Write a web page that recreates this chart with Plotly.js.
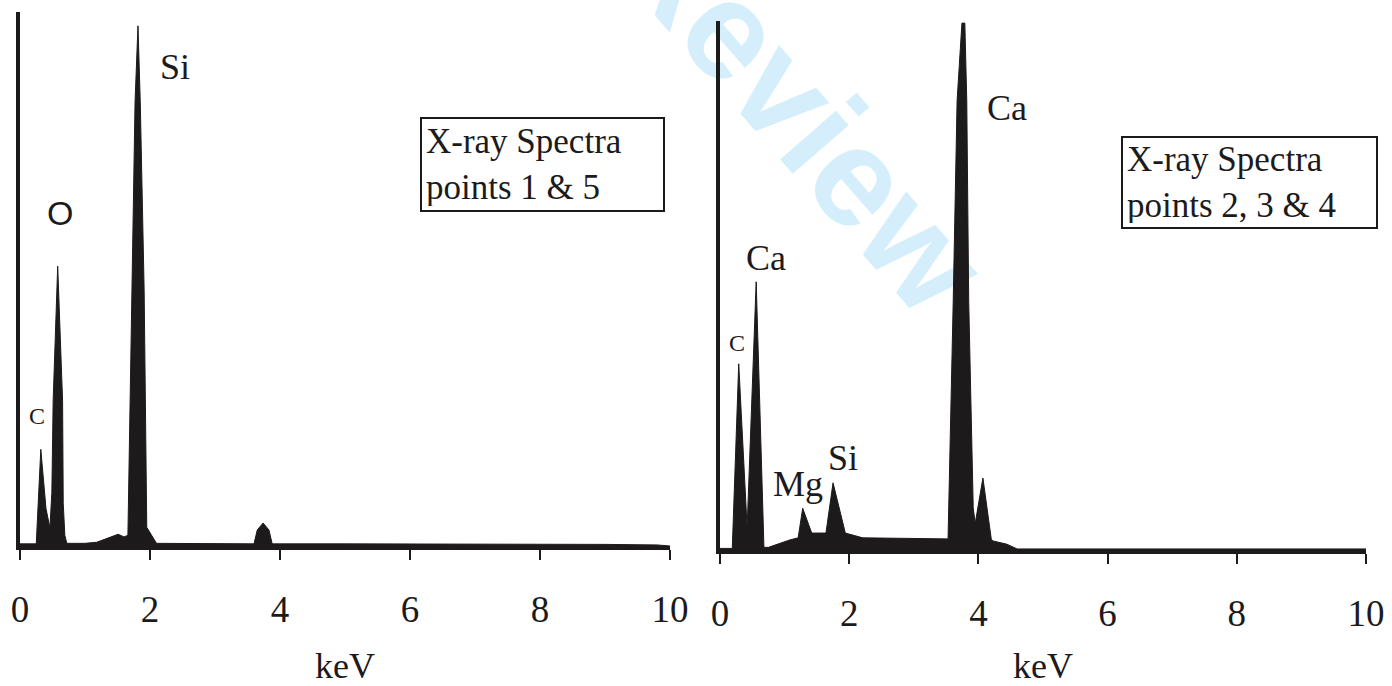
<!DOCTYPE html>
<html>
<head>
<meta charset="utf-8">
<script src="https://cdn.plot.ly/plotly-3.0.1.min.js"></script>
<style>html,body{margin:0;padding:0;background:#fff;}#chart{width:1392px;height:686px;}</style>
</head>
<body>
<div id="chart"></div>
<script>
// Spectrum for points 1 & 5 (keV, relative counts)
const energyA = [0, 0.25, 0.32, 0.40, 0.46, 0.49, 0.51, 0.58, 0.655, 0.665, 0.69, 0.72, 1.0, 1.18, 1.51, 1.60, 1.66, 1.72, 1.77, 1.815, 1.85, 1.91, 1.95, 2.1, 3.0, 3.60, 3.65, 3.74, 3.83, 3.88, 5, 7, 9, 9.8, 10];
const countsA = [0.4, 0.4, 18.1, 7.0, 3.4, 10, 27.2, 52.4, 27.2, 8, 2, 0.5, 0.5, 0.7, 2.2, 1.7, 2.0, 47.8, 83.2, 97.4, 83.2, 47.8, 3.5, 0.5, 0.4, 0.4, 3.0, 4.3, 3.0, 0.4, 0.4, 0.4, 0.3, 0.2, 0];

// Spectrum for points 2, 3 & 4
const energyB = [0, 0.19, 0.29, 0.42, 0.56, 0.68, 0.75, 0.9, 1.08, 1.21, 1.28, 1.42, 1.64, 1.75, 1.94, 2.21, 3.0, 3.53, 3.61, 3.67, 3.745, 3.79, 3.82, 3.85, 3.92, 3.95, 4.07, 4.20, 4.23, 4.44, 4.6, 6, 8, 10];
const countsB = [0.3, 0.3, 35.2, 4.2, 50.7, 0.5, 0.5, 1.2, 1.9, 2.3, 7.9, 3.2, 3.2, 12.7, 3.2, 2.3, 2.2, 2.1, 47, 84.9, 99.6, 99.6, 84.9, 47, 8, 5, 13.6, 2.0, 1.7, 1.1, 0.2, 0.2, 0.2, 0.2];

// Axis ticks
const tickValues = [0, 2, 4, 6, 8, 10];
const tickText = ['0', '2', '4', '6', '8', '10'];

// Peak labels
const labelsA = ['Si', 'O', 'C'];
const labelsAx = [2.38, 0.615, 0.26];
const labelsAy = [89.7, 62.3, 24.4];
const labelsB = ['Ca', 'Ca', 'C', 'Mg', 'Si'];
const labelsBx = [4.44, 0.71, 0.26, 1.2, 1.9];
const labelsBy = [83.6, 55.2, 39.1, 12.5, 17.4];

const boxTextA = 'X-ray Spectra<br>points 1 &amp; 5';
const boxTextB = 'X-ray Spectra<br>points 2, 3 &amp; 4';
const axisTitle = 'keV';

const INK = '#1c1a1b';
const SERIF = 'Liberation Serif, Times New Roman, serif';

const traces = [
  {x: energyA, y: countsA, xaxis: 'x', yaxis: 'y', type: 'scatter', mode: 'lines',
   fill: 'tozeroy', fillcolor: INK, line: {color: INK, width: 1}, hoverinfo: 'skip'},
  {x: energyB, y: countsB, xaxis: 'x2', yaxis: 'y2', type: 'scatter', mode: 'lines',
   fill: 'tozeroy', fillcolor: INK, line: {color: INK, width: 1}, hoverinfo: 'skip'}
];

function xax(domain, anchor) {
  return {
    domain: domain, anchor: anchor, range: [0, 10],
    tickmode: 'array', tickvals: tickValues, ticktext: tickText,
    ticks: 'outside', ticklen: 10, tickwidth: 2, tickcolor: INK,
    ticklabelstandoff: 18,
    showline: true, linewidth: 4, linecolor: INK,
    showgrid: false, zeroline: false,
    tickfont: {family: SERIF, size: 37, color: INK},
    title: {text: axisTitle, font: {family: SERIF, size: 36, color: INK}, standoff: 33}
  };
}
function yax(domain, anchor) {
  return {
    domain: domain, anchor: anchor, range: [0, 100],
    showline: true, linewidth: 4, linecolor: INK,
    showticklabels: false, ticks: '', showgrid: false, zeroline: false
  };
}

const annotations = [];
labelsA.forEach((t, i) => {
  annotations.push({xref: 'x', yref: 'y', x: labelsAx[i], y: labelsAy[i], text: t, showarrow: false,
    xanchor: 'center', yanchor: 'middle',
    font: t === 'O' ? {family: 'Liberation Sans, Arial, sans-serif', size: 34, color: INK}
                     : {family: SERIF, size: t === 'C' ? 24 : 36, color: INK}});
});
labelsB.forEach((t, i) => {
  annotations.push({xref: 'x2', yref: 'y2', x: labelsBx[i], y: labelsBy[i], text: t, showarrow: false,
    xanchor: 'center', yanchor: 'middle',
    font: {family: SERIF, size: t === 'C' ? 24 : 36, color: INK}});
});
const PH = 556; // plot-area height in px (paper units)
function px2x(px) { return px / 1392; }
function py2y(py) { return (PH - py) / PH; }
annotations.push({xref: 'paper', yref: 'paper', x: px2x(542), y: py2y(164.5), text: boxTextA,
  showarrow: false, xanchor: 'center', yanchor: 'middle', align: 'left', valign: 'middle',
  width: 233, height: 83, borderpad: 4, bordercolor: INK, borderwidth: 2, bgcolor: '#fff',
  font: {family: SERIF, size: 35, color: INK}});
annotations.push({xref: 'paper', yref: 'paper', x: px2x(1249.5), y: py2y(182.5), text: boxTextB,
  showarrow: false, xanchor: 'center', yanchor: 'middle', align: 'left', valign: 'middle',
  width: 245, height: 81, borderpad: 4, bordercolor: INK, borderwidth: 2, bgcolor: '#fff',
  font: {family: SERIF, size: 35, color: INK}});

// watermark, running at ~49 degrees
const wmCx = 810, wmCy = 100, wmHalf = 230, wmAng = 49 * Math.PI / 180;
const shapes = [{
  type: 'line', xref: 'paper', yref: 'paper', layer: 'below',
  x0: px2x(wmCx - wmHalf * Math.cos(wmAng)), y0: py2y(wmCy - wmHalf * Math.sin(wmAng)),
  x1: px2x(wmCx + wmHalf * Math.cos(wmAng)), y1: py2y(wmCy + wmHalf * Math.sin(wmAng)),
  line: {color: 'rgba(0,0,0,0)', width: 1},
  label: {text: 'Review', textangle: 'auto', textposition: 'middle', yanchor: 'middle',
          font: {family: 'Liberation Sans, Arial, sans-serif', size: 140, color: '#d4effb', weight: 'bold'}}
}];

const layout = {
  width: 1392, height: 686,
  margin: {l: 0, r: 0, t: 0, b: 130},
  paper_bgcolor: '#ffffff', plot_bgcolor: 'rgba(0,0,0,0)',
  showlegend: false,
  xaxis: xax([20 / 1392, 670 / 1392], 'y'),
  yaxis: yax([(PH - 546) / PH, (PH - 12) / PH], 'x'),
  xaxis2: xax([720 / 1392, 1366 / 1392], 'y2'),
  yaxis2: yax([(PH - 550) / PH, (PH - 21) / PH], 'x2'),
  annotations: annotations,
  shapes: shapes
};

Plotly.newPlot('chart', traces, layout, {displayModeBar: false, staticPlot: true});
</script>
</body>
</html>
